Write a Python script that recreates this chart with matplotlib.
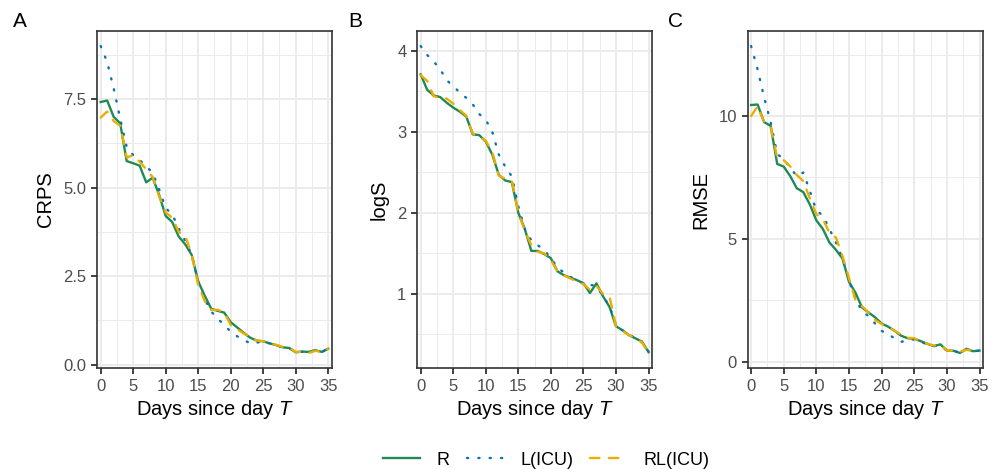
import numpy as np
import matplotlib
matplotlib.use("Agg")
import matplotlib.pyplot as plt
from matplotlib.lines import Line2D
from matplotlib.ticker import MultipleLocator

plt.rcParams["font.family"] = ["Liberation Sans", "DejaVu Sans"]
plt.rcParams["mathtext.fontset"] = "custom"
plt.rcParams["mathtext.rm"] = "Liberation Sans"
plt.rcParams["mathtext.it"] = "Liberation Sans:italic"

days = np.arange(36)

# CRPS by forecast horizon
crps_r = [7.42, 7.46, 7.0, 6.82, 5.75, 5.69, 5.62, 5.15, 5.28, 4.79, 4.2, 4.03,
          3.62, 3.4, 3.1, 2.35, 1.95, 1.58, 1.52, 1.47, 1.2, 1.05, 0.9, 0.76,
          0.68, 0.66, 0.6, 0.55, 0.49, 0.47, 0.35, 0.37, 0.36, 0.41, 0.36, 0.45]
crps_l = [9.0, 8.55, 7.8, 6.95, 6.15, 5.92, 5.78, 5.6, 5.42, 4.95, 4.42, 4.25,
          3.85, 3.5, 3.1, 2.35, 1.85, 1.5, 1.3, 1.12, 0.93, 0.8, 0.7, 0.6,
          0.62, 0.66, 0.6, 0.55, 0.49, 0.46, 0.37, 0.36, 0.35, 0.4, 0.36, 0.44]
crps_rl = [6.98, 7.15, 6.88, 6.75, 5.85, 5.92, 5.73, 5.52, 5.3, 4.75, 4.3, 4.15,
           3.75, 3.65, 3.1, 2.25, 1.8, 1.55, 1.55, 1.48, 1.12, 1.0, 0.88, 0.78,
           0.68, 0.66, 0.6, 0.56, 0.5, 0.47, 0.36, 0.36, 0.33, 0.39, 0.36, 0.45]

# log score
logs_r = [3.71, 3.52, 3.45, 3.43, 3.36, 3.3, 3.25, 3.19, 2.97, 2.96, 2.88, 2.72,
          2.47, 2.4, 2.38, 2.0, 1.8, 1.53, 1.53, 1.49, 1.44, 1.28, 1.23, 1.2,
          1.17, 1.13, 1.01, 1.13, 0.97, 0.84, 0.6, 0.55, 0.49, 0.45, 0.41, 0.28]
logs_l = [4.06, 3.95, 3.87, 3.77, 3.64, 3.56, 3.49, 3.42, 3.34, 3.22, 3.15, 3.0,
          2.72, 2.57, 2.45, 2.08, 1.8, 1.66, 1.6, 1.54, 1.44, 1.33, 1.26, 1.21,
          1.17, 1.13, 1.11, 1.1, 0.97, 0.85, 0.62, 0.55, 0.5, 0.45, 0.4, 0.29]
logs_rl = [3.7, 3.63, 3.44, 3.42, 3.41, 3.35, 3.27, 3.2, 2.98, 2.94, 2.89, 2.75,
           2.46, 2.42, 2.4, 2.0, 1.78, 1.6, 1.52, 1.5, 1.42, 1.28, 1.23, 1.19,
           1.15, 1.12, 1.05, 1.1, 1.0, 0.97, 0.6, 0.54, 0.49, 0.45, 0.4, 0.27]

# RMSE
rmse_r = [10.45, 10.47, 9.75, 9.6, 8.05, 7.94, 7.55, 7.06, 6.9, 6.4, 5.75, 5.4,
          4.85, 4.55, 4.2, 3.25, 2.8, 2.2, 2.0, 1.8, 1.55, 1.42, 1.25, 1.05,
          0.95, 0.93, 0.83, 0.72, 0.63, 0.7, 0.45, 0.44, 0.35, 0.52, 0.42, 0.45]
rmse_l = [12.85, 11.9, 10.75, 9.75, 8.45, 8.25, 7.9, 7.55, 7.7, 6.95, 6.15, 5.95,
          5.4, 4.85, 4.2, 3.3, 2.55, 2.05, 1.85, 1.55, 1.25, 1.1, 0.95, 0.8,
          0.88, 0.9, 0.8, 0.7, 0.64, 0.62, 0.46, 0.44, 0.36, 0.5, 0.42, 0.44]
rmse_rl = [10.0, 10.4, 9.75, 9.55, 8.3, 8.2, 7.95, 7.6, 7.35, 6.65, 6.0, 5.8,
           5.25, 5.05, 4.3, 3.4, 2.5, 2.25, 2.0, 1.7, 1.53, 1.4, 1.25, 1.1,
           0.97, 0.95, 0.83, 0.73, 0.65, 0.68, 0.45, 0.44, 0.4, 0.48, 0.43, 0.44]

model_names = ["R", "L(ICU)", "RL(ICU)"]
colors = ["#208a55", "#0a72b0", "#ebae00"]
styles = ["-", (0, (0.5, 4.3)), (0, (4, 4))]

# tag, y title, series, major step, axes left/width, tag x (figure fraction)
panels = [
    ("A", "CRPS", [crps_r, crps_l, crps_rl], 2.5, (0.0973, 0.2347), 0.013),
    ("B", "logS", [logs_r, logs_l, logs_rl], 1.0, (0.4173, 0.2350), 0.348),
    ("C", "RMSE", [rmse_r, rmse_l, rmse_rl], 5.0, (0.7477, 0.2356), 0.668),
]

fig = plt.figure(figsize=(10, 4.69), dpi=100)

for tag, ylab, series, step, (left, width), tag_x in panels:
    ax = fig.add_axes([left, 0.2147, width, 0.7198])
    for vals, col, ls in zip(series, colors, styles):
        ax.plot(days, vals, color=col, linestyle=ls, lw=1.7,
                dash_capstyle="round" if ls != "-" else "butt")
    allv = np.concatenate([np.asarray(s) for s in series])
    lo, hi = allv.min(), allv.max()
    pad = 0.05 * (hi - lo)
    ax.set_ylim(lo - pad, hi + pad)
    ax.set_xlim(-0.52, 35.58)
    ax.xaxis.set_major_locator(MultipleLocator(5))
    ax.xaxis.set_minor_locator(MultipleLocator(2.5))
    ax.yaxis.set_major_locator(MultipleLocator(step))
    ax.yaxis.set_minor_locator(MultipleLocator(step / 2))
    if tag == "A":
        ax.yaxis.set_major_formatter(plt.FormatStrFormatter("%.1f"))
    ax.grid(True, which="major", color="#ebebeb", lw=1.4)
    ax.grid(True, which="minor", color="#ebebeb", lw=0.7)
    ax.set_axisbelow(True)
    for sp in ax.spines.values():
        sp.set_color("#333333")
        sp.set_linewidth(1.2)
    ax.tick_params(which="major", length=4.3, width=1.3, color="#333333",
                   labelcolor="#4d4d4d", labelsize=12, pad=3.5)
    ax.tick_params(which="minor", length=0)
    ax.set_xlabel("Days since day $T$", fontsize=14.5, labelpad=3)
    ax.set_ylabel(ylab, fontsize=14.5, labelpad=6)
    fig.text(tag_x, 0.955, tag, fontsize=15, ha="left", va="center")

handles = [Line2D([0], [0], color=c, linestyle=s, lw=1.7,
                  dash_capstyle="round" if s != "-" else "butt")
           for c, s in zip(colors, styles)]
fig.legend(handles, model_names, loc="center", ncol=3, frameon=False,
           fontsize=13, handlelength=2.05, handletextpad=0.9,
           columnspacing=0.95, bbox_to_anchor=(0.5465, 1 - 460 / 469))

fig.savefig("out.png", dpi=100, facecolor="white")
